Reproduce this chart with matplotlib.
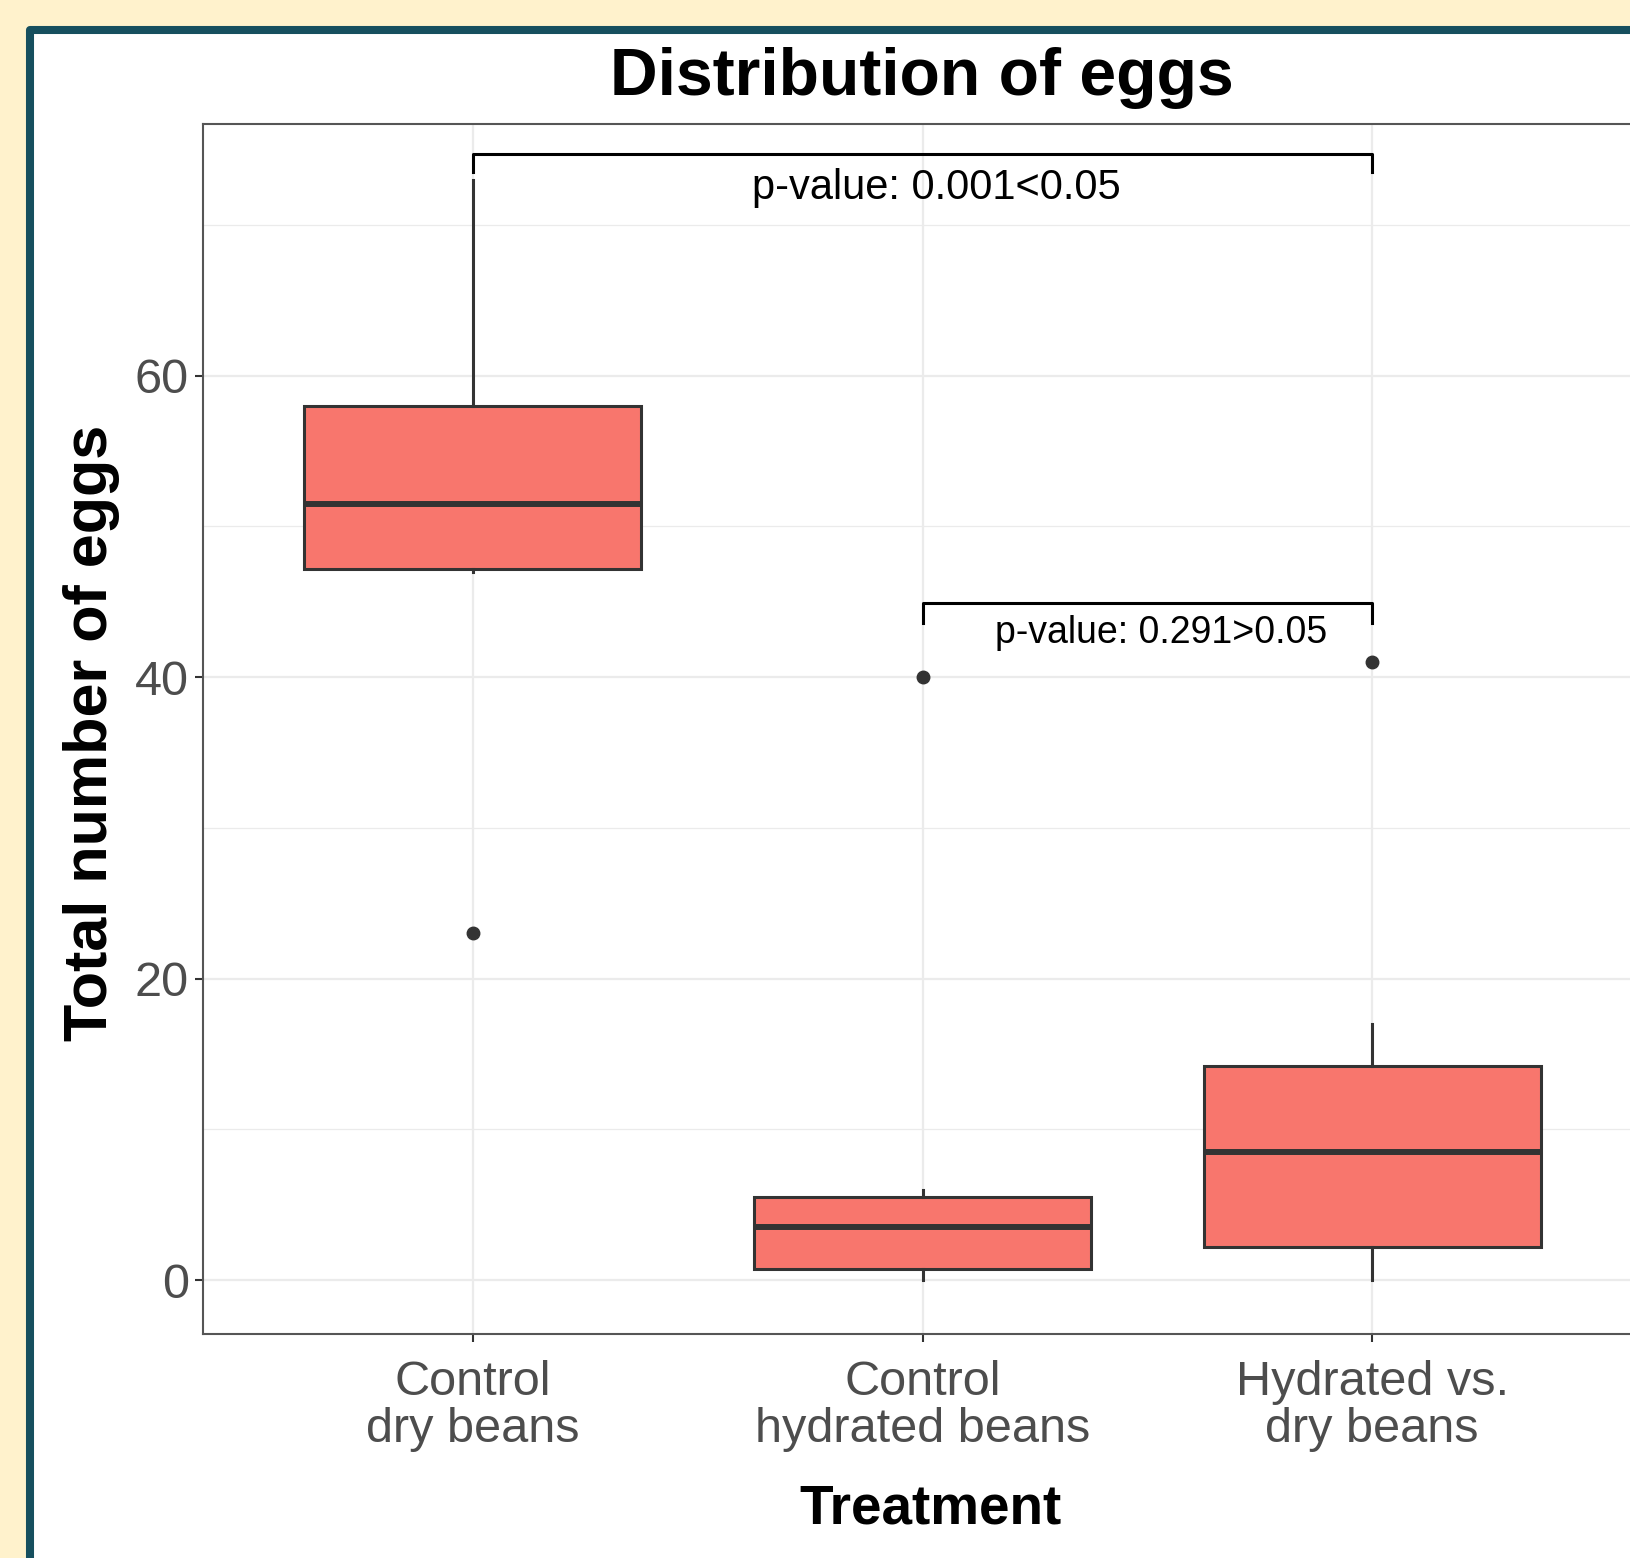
import numpy as np
import matplotlib
matplotlib.use("Agg")
import matplotlib.pyplot as plt
from matplotlib.patches import Rectangle

plt.rcParams["font.family"] = ["Liberation Sans", "DejaVu Sans"]

# data
categories = ["Control\ndry beans", "Control\nhydrated beans", "Hydrated vs.\ndry beans"]
q1 = [47.2, 0.7, 2.2]
median = [51.5, 3.5, 8.5]
q3 = [58.0, 5.5, 14.2]
whisker_lo = [47.0, 0.0, 0.0]
whisker_hi = [73.0, 6.0, 17.0]
outliers = [[23.0], [40.0], [41.0]]

# significance brackets: (group a, group b, bracket y, tip y, label, label size, text drop)
brackets = [
    (1, 3, 74.7, 73.5, "p-value: 0.001<0.05", 30, 3.0),
    (2, 3, 44.9, 43.6, "p-value: 0.291>0.05", 27, 2.65),
]

W, H = 1630, 1558
fig = plt.figure(figsize=(W / 100, H / 100), dpi=100)
fig.patch.set_facecolor("#FFF2CC")

# teal frame, cropped at right and bottom like the source screenshot
fig.add_artist(Rectangle((30 / W, -0.05), 1.2, 1 - 30 / H + 0.05, transform=fig.transFigure,
                         facecolor="white", edgecolor="#164F5E", lw=5.8, joinstyle="round", zorder=0))

ax = fig.add_axes([203 / W, (H - 1334) / H, (1642 - 203) / W, (1334 - 124) / H])
ax.set_facecolor("white")

stats = []
for i in range(len(categories)):
    stats.append(dict(med=median[i], q1=q1[i], q3=q3[i], whislo=whisker_lo[i],
                      whishi=whisker_hi[i], fliers=outliers[i]))
pos = np.arange(1, len(categories) + 1)
edge = "#333333"
ax.bxp(stats, positions=pos, widths=0.75, patch_artist=True, showcaps=False,
       boxprops=dict(facecolor="#F8766D", edgecolor=edge, lw=2.2),
       medianprops=dict(color=edge, lw=4.3, solid_capstyle="butt"),
       whiskerprops=dict(color=edge, lw=2.2),
       flierprops=dict(marker="o", markersize=9, markerfacecolor=edge, markeredgecolor=edge),
       zorder=3)

ax.set_xlim(0.4, 3.6)
ax.set_ylim(-3.58, 76.7)
ax.set_yticks([0, 20, 40, 60])
ax.set_yticks([10, 30, 50, 70], minor=True)
ax.set_xticks(pos)
ax.set_xticklabels(categories, fontsize=35, color="#4D4D4D", linespacing=1.04)
ax.tick_params(axis="y", labelsize=35, labelcolor="#4D4D4D", pad=4)
ax.tick_params(axis="x", pad=13)
ax.tick_params(which="major", length=6, width=1.5, color=edge)
ax.tick_params(which="minor", length=0)
ax.grid(which="major", color="#EBEBEB", lw=1.6, zorder=0)
ax.grid(which="minor", axis="y", color="#EBEBEB", lw=0.9, zorder=0)
ax.set_axisbelow(True)
for s in ax.spines.values():
    s.set_color("#555555")
    s.set_linewidth(1.5)

for a, b, y, tip, label, size, drop in brackets:
    ax.plot([a, a, b, b], [tip, y, y, tip], color="black", lw=2.2, clip_on=False, zorder=4)
    ax.text((a + b) / 2 + 0.03, y - drop, label, fontsize=size, ha="center", va="baseline",
            color="black", zorder=5)

fig.text(922 / W, 1 - 95 / H, "Distribution of eggs", fontsize=47.5, fontweight="bold",
         ha="center", va="baseline")
fig.text(92 / W, 1 - 733 / H, "Total number of eggs", fontsize=44, fontweight="bold",
         rotation=90, ha="center", va="center")
fig.text(930 / W, 1 - 1509 / H, "Treatment", fontsize=39.5, fontweight="bold",
         ha="center", va="center")

fig.savefig("out.png", dpi=100, facecolor=fig.get_facecolor())
